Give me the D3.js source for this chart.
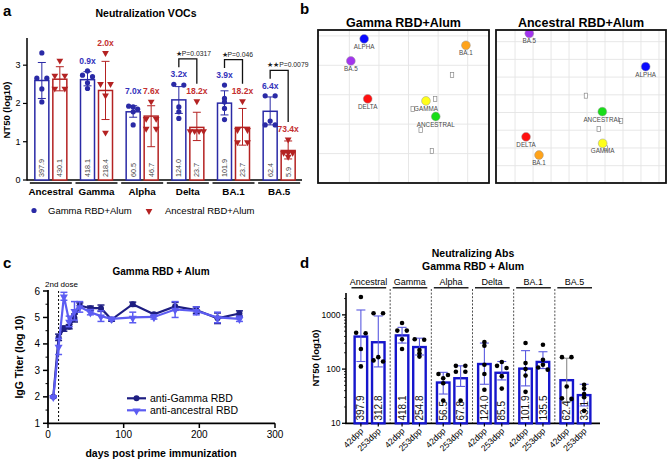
<!DOCTYPE html>
<html><head><meta charset="utf-8">
<script src="https://cdn.jsdelivr.net/npm/d3@7"></script>
<style>
body{margin:0;background:#fff}
svg{display:block;font-family:"Liberation Sans",Arial,Helvetica,sans-serif}
</style>
</head><body>
<svg id="fig" width="667" height="461"></svg>
<script>
// ================= DATA =================
// Panel a
const variantsA = ["Ancestral","Gamma","Alpha","Delta","BA.1","BA.5"];
const seriesA = ["Gamma RBD+Alum","Ancestral RBD+Alum"];
const gammaGMT = [397.9,418.1,60.5,124.0,101.9,62.4];
const ancestralGMT = [430.1,218.4,46.7,23.7,23.7,5.9];
const gammaFold = ["","0.9x","7.0x","3.2x","3.9x","6.4x"];
const ancestralFold = ["","2.0x","7.6x","18.2x","18.2x","73.4x"];
const gammaPts = [[3.32,2.66,2.66,2.38,2.04],[2.85,2.70,2.74,2.54,2.39],[1.91,1.93,1.85,1.78,1.44],[2.50,2.48,1.91,1.78,1.61],[2.48,2.04,2.13,1.87,1.58],[2.20,2.20,1.54,1.44,1.44]];
const ancestralPts = [[3.13,2.74,2.74,2.40,2.40],[3.33,2.52,2.52,2.22,1.25],[2.06,1.61,1.61,1.35,1.35],[2.07,1.29,1.29,1.29,1.29],[2.07,1.32,1.32,1.00,1.00],[1.07,0.72,0.72,0.72,0.62]];
const gammaErr = [[2.13,3.07],[2.46,2.83],[1.64,1.94],[1.74,2.44],[1.70,2.33],[1.44,2.17]];
const ancestralErr = [[2.33,2.96],[1.58,3.10],[0.87,1.94],[1.03,1.77],[0.91,1.87],[0.55,1.02]];
const pTests = [{variant:"Delta",label:"\u2605P=0.0317"},{variant:"BA.1",label:"\u2605P=0.046"},{variant:"BA.5",label:"\u2605\u2605P=0.0079"}];
const yTicksA = [0,1,2,3];

// Panel b (antigenic maps, map units)
const antigenNames = ["ALPHA","BA.1","BA.5","DELTA","GAMMA","ANCESTRAL"];
const gammaMapX = [0.50,3.94,0.05,0.62,2.59,2.92];
const gammaMapY = [0.10,0.32,0.85,2.14,2.21,2.74];
const gammaSeraX = [3.47,2.90,2.14,2.41,2.79];
const gammaSeraY = [1.33,2.15,2.49,3.20,3.91];
const ancMapX = [7.26,1.33,0.79,0.61,4.87,4.85];
const ancMapY = [1.41,6.40,-0.47,5.37,5.74,3.95];
const ancSeraX = [3.94,5.89,4.65,5.04];
const ancSeraY = [3.05,4.48,4.93,6.02];

// Panel c
const daysC = [7,14,21,28,35,42,56,70,84,112,140,168,196,224,253];
const antiGamma = [2.0,4.25,4.58,4.65,4.98,5.45,5.35,5.35,4.92,5.50,5.12,5.42,5.28,4.97,5.15];
const antiGammaErr = [0.03,0.12,0.10,0.08,0.15,0.10,0.08,0.12,0.06,0.08,0.06,0.15,0.12,0.20,0.10];
const antiAnc = [2.0,3.90,5.80,4.85,5.25,5.40,5.20,5.05,4.95,5.00,5.02,5.30,5.25,5.00,4.95];
const antiAncErr = [0.03,0.30,0.15,0.20,0.35,0.20,0.10,0.20,0.06,0.20,0.08,0.30,0.15,0.20,0.10];
const seriesC = ["anti-Gamma RBD","anti-ancestral RBD"];
const xTicksC = [0,100,200,300];
const yTicksC = [1,2,3,4,5,6];

// Panel d
const groupsD = ["Ancestral","Gamma","Alpha","Delta","BA.1","BA.5"];
const timesD = ["42dpp","253dpp"];
const gmt42 = [397.9,418.1,56.5,124.0,101.9,62.4];
const gmt253 = [312.8,254.8,67.8,85.5,135.5,33.1];
const pts42 = [[3.33,2.66,2.67,2.37,2.05],[2.85,2.71,2.71,2.55,2.37],[1.91,1.89,1.83,1.74,1.42],[2.50,2.43,2.08,1.91,1.62],[2.48,2.11,2.00,1.88,1.58],[2.22,2.22,1.68,1.45,1.46]];
const pts253 = [[3.03,3.03,2.22,2.14,2.16],[2.55,2.54,2.35,2.29,2.23],[2.06,2.06,1.95,1.95,1.42],[2.13,2.06,2.02,1.87,1.64],[2.45,2.08,2.03,1.99,2.17],[1.71,1.64,1.54,1.48,1.23]];
const err42 = [[2.14,3.09],[2.48,2.77],[1.54,1.94],[1.72,2.48],[1.69,2.34],[1.40,2.20]];
const err253 = [[2.04,2.98],[2.26,2.57],[1.68,2.06],[1.80,2.14],[2.01,2.32],[1.32,1.72]];
const yTicksD = [10,100,1000];

// ================= STYLES =================
const BLUE_A="#2a2aa6", RED_A="#b42222", FOLD_BLUE="#3333bb", FOLD_RED="#c43030";
const antigenColors = {"ALPHA":"#0a0aff","BA.1":"#ffa31a","BA.5":"#a335ee","DELTA":"#ff1010","GAMMA":"#ffff1a","ANCESTRAL":"#18dd18"};
const DARK_C="#1e1e82", LIGHT_C="#5c5cf2";
const BAR_D="#1616cc", ERR_D="#5a5ae0";

const svg = d3.select("#fig");

function spread(vals, ys, thr, sp2, spN){
  const idx = vals.map((v,i)=>i).sort((a,b)=>ys(vals[a])-ys(vals[b]));
  const off = new Array(vals.length).fill(0);
  let cl=[idx[0]];
  const flush=()=>{const n=cl.length;const sp=n===2?sp2:spN;cl.forEach((k,j)=>off[k]=(j-(n-1)/2)*sp);};
  for(let i=1;i<idx.length;i++){
    if(Math.abs(ys(vals[idx[i]])-ys(vals[cl[cl.length-1]]))<thr) cl.push(idx[i]);
    else {flush(); cl=[idx[i]];}
  }
  flush();
  return off;
}
const panelLabel=(t,x,y)=>svg.append("text").attr("x",x).attr("y",y).attr("font-size",15).attr("font-weight","bold").text(t);

// ================= PANEL A =================
(function(){
  const g = svg.append("g");
  panelLabel("a",3,16);
  g.append("text").attr("x",146).attr("y",17).attr("text-anchor","middle").attr("font-size",10.5).attr("font-weight","bold").text("Neutralization VOCs");
  const y = d3.scaleLinear().domain([0,3.71]).range([180,38]);
  const x0 = d3.scaleBand().domain(variantsA).range([28,302]);
  const x1 = d3.scaleBand().domain(seriesA).range([-18,18]);
  const bw = 14;
  g.append("line").attr("x1",27).attr("x2",27).attr("y1",38).attr("y2",180.5).attr("stroke","#000").attr("stroke-width",1.5);
  yTicksA.forEach(t=>{
    g.append("line").attr("x1",23).attr("x2",27).attr("y1",y(t)).attr("y2",y(t)).attr("stroke","#000").attr("stroke-width",1.2);
    g.append("text").attr("x",20.5).attr("y",y(t)+3).attr("text-anchor","end").attr("font-size",9).text(t);
  });
  g.append("text").attr("transform","translate(10,110) rotate(-90)").attr("text-anchor","middle").attr("font-size",9.5).attr("font-weight","bold").text("NT50 (log10)");
  g.append("line").attr("x1",27).attr("x2",302).attr("y1",180).attr("y2",180).attr("stroke","#000").attr("stroke-width",1.5);
  const sets = [
    {s:seriesA[0],gmt:gammaGMT,pts:gammaPts,err:gammaErr,col:BLUE_A,fold:gammaFold,fc:FOLD_BLUE,sym:"circle"},
    {s:seriesA[1],gmt:ancestralGMT,pts:ancestralPts,err:ancestralErr,col:RED_A,fold:ancestralFold,fc:FOLD_RED,sym:"tri"}
  ];
  const foldY = {};
  variantsA.forEach((v,i)=>{
    const cx = x0(v)+x0.bandwidth()/2;
    g.append("line").attr("x1",cx-21).attr("x2",cx+21).attr("y1",183).attr("y2",183).attr("stroke","#000").attr("stroke-width",1.5);
    g.append("text").attr("x",cx).attr("y",195).attr("text-anchor","middle").attr("font-size",9.8).attr("font-weight","bold").text(v);
    const tops = sets.map(S=>y(Math.max(d3.max(S.pts[i]),S.err[i][1]))-7);
    if(Math.abs(tops[0]-tops[1])<8){const m=Math.min(...tops);tops[0]=m;tops[1]=m;}
    foldY[v]=tops;
    sets.forEach((S,si)=>{
      const bx = cx + x1(S.s)+x1.bandwidth()/2;
      const val = Math.log10(S.gmt[i]);
      g.append("rect").attr("x",bx-bw/2).attr("y",y(val)).attr("width",bw).attr("height",y(0)-y(val)).attr("fill","#fff").attr("stroke",S.col).attr("stroke-width",1.5);
      g.append("text").attr("transform",`translate(${bx+2.5},177) rotate(-90)`).attr("font-size",7.2).attr("fill","#444").text(S.gmt[i].toFixed(1));
      const [lo,hi]=S.err[i];
      g.append("line").attr("x1",bx).attr("x2",bx).attr("y1",y(lo)).attr("y2",y(hi)).attr("stroke",S.col).attr("stroke-width",1);
      [lo,hi].forEach(e=>g.append("line").attr("x1",bx-4).attr("x2",bx+4).attr("y1",y(e)).attr("y2",y(e)).attr("stroke",S.col).attr("stroke-width",1));
      const off = spread(S.pts[i],y,2.5,10,4.5);
      S.pts[i].forEach((p,k)=>{
        if(S.sym==="circle") g.append("circle").attr("cx",bx+off[k]).attr("cy",y(p)).attr("r",2.6).attr("fill",S.col);
        else g.append("path").attr("d",d3.symbol().type(d3.symbolTriangle).size(20)()).attr("transform",`translate(${bx+off[k]},${y(p)+0.5}) rotate(180)`).attr("fill",S.col);
      });
      if(S.fold[i]) g.append("text").attr("x",bx).attr("y",tops[si]).attr("text-anchor","middle").attr("font-size",8.5).attr("font-weight","bold").attr("fill",S.fc).text(S.fold[i]);
    });
  });
  pTests.forEach(t=>{
    const cx = x0(t.variant)+x0.bandwidth()/2;
    const bxL = cx + x1(seriesA[0])+x1.bandwidth()/2, bxR = cx + x1(seriesA[1])+x1.bandwidth()/2;
    const [tb,tr]=foldY[t.variant];
    const legL = tb-10, legR = tr-10, top = legL-8.5;
    g.append("path").attr("d",`M${bxL},${legL}V${top}H${bxR}V${legR}`).attr("fill","none").attr("stroke","#111").attr("stroke-width",1.3);
    g.append("text").attr("x",bxL-3).attr("y",top-3).attr("font-size",6.8).attr("fill","#222").text(t.label);
  });
  g.append("circle").attr("cx",34).attr("cy",210.5).attr("r",2.6).attr("fill",BLUE_A);
  g.append("text").attr("x",48).attr("y",214).attr("font-size",9.5).text(seriesA[0]);
  g.append("path").attr("d",d3.symbol().type(d3.symbolTriangle).size(20)()).attr("transform","translate(149,211) rotate(180)").attr("fill",RED_A);
  g.append("text").attr("x",165).attr("y",214).attr("font-size",9.5).text(seriesA[1]);
})();

// ================= PANEL B =================
(function(){
  panelLabel("b",300,14);
  const maps = [
    {title:"Gamma RBD+Alum",x0:318,x1:489,xd:[-1.06,4.72],yd:[-0.2,5.0],gx:[0,1,2,3,4],gy:[0,1,2,3,4],ax:gammaMapX,ay:gammaMapY,sx:gammaSeraX,sy:gammaSeraY,id:"m1"},
    {title:"Ancestral RBD+Alum",x0:496,x1:666,xd:[-1.06,8.39],yd:[-0.66,7.98],gx:[0,1,2,3,4,5,6,7,8],gy:[0,1,2,3,4,5,6,7],ax:ancMapX,ay:ancMapY,sx:ancSeraX,sy:ancSeraY,id:"m2"}
  ];
  maps.forEach(M=>{
    const x=d3.scaleLinear().domain(M.xd).range([M.x0,M.x1]);
    const y=d3.scaleLinear().domain(M.yd).range([30,183]);
    svg.append("text").attr("x",(M.x0+M.x1)/2).attr("y",27).attr("text-anchor","middle").attr("font-size",12.5).attr("font-weight","bold").text(M.title);
    svg.append("clipPath").attr("id",M.id).append("rect").attr("x",M.x0).attr("y",30).attr("width",M.x1-M.x0).attr("height",153);
    const g=svg.append("g").attr("clip-path",`url(#${M.id})`);
    g.append("rect").attr("x",M.x0).attr("y",30).attr("width",M.x1-M.x0).attr("height",153).attr("fill","#fff");
    M.gx.forEach(v=>g.append("line").attr("x1",x(v)).attr("x2",x(v)).attr("y1",30).attr("y2",183).attr("stroke","#e4e4e4").attr("stroke-width",0.9));
    M.gy.forEach(v=>g.append("line").attr("x1",M.x0).attr("x2",M.x1).attr("y1",y(v)).attr("y2",y(v)).attr("stroke","#e4e4e4").attr("stroke-width",0.9));
    M.sx.forEach((v,i)=>g.append("rect").attr("x",x(v)-1.7).attr("y",y(M.sy[i])-2.5).attr("width",3.4).attr("height",5).attr("fill","#fff").attr("stroke","#8a8a8a").attr("stroke-width",0.7));
    antigenNames.forEach((n,i)=>{
      g.append("circle").attr("cx",x(M.ax[i])).attr("cy",y(M.ay[i])).attr("r",4.4).attr("fill",antigenColors[n]).attr("stroke","#999").attr("stroke-width",0.5);
      g.append("text").attr("x",x(M.ax[i])).attr("y",y(M.ay[i])+10).attr("text-anchor","middle").attr("font-size",6.3).attr("fill","#4a4a4a").text(n);
    });
    svg.append("rect").attr("x",M.x0).attr("y",30).attr("width",M.x1-M.x0).attr("height",153).attr("fill","none").attr("stroke","#111").attr("stroke-width",1.8);
  });
})();

// ================= PANEL C =================
(function(){
  const g=svg.append("g");
  panelLabel("c",3,268);
  g.append("text").attr("x",161).attr("y",275).attr("text-anchor","middle").attr("font-size",10).attr("font-weight","bold").text("Gamma RBD + Alum");
  const x=d3.scaleLinear().domain([0,300]).range([48,275]);
  const y=d3.scaleLinear().domain([1,6]).range([423.3,291]);
  g.append("line").attr("x1",48).attr("x2",48).attr("y1",290).attr("y2",424).attr("stroke","#000").attr("stroke-width",1.8);
  g.append("line").attr("x1",47).attr("x2",275).attr("y1",423.3).attr("y2",423.3).attr("stroke","#000").attr("stroke-width",1.8);
  yTicksC.forEach(t=>{
    g.append("line").attr("x1",43).attr("x2",48).attr("y1",y(t)).attr("y2",y(t)).attr("stroke","#000").attr("stroke-width",1.5);
    g.append("text").attr("x",40).attr("y",y(t)+3.5).attr("text-anchor","end").attr("font-size",10).text(t);
  });
  d3.range(1,6,0.5).filter(t=>t%1!==0).forEach(t=>g.append("line").attr("x1",45.5).attr("x2",48).attr("y1",y(t)).attr("y2",y(t)).attr("stroke","#000").attr("stroke-width",1));
  xTicksC.forEach(t=>{
    g.append("line").attr("x1",x(t)).attr("x2",x(t)).attr("y1",423.3).attr("y2",428).attr("stroke","#000").attr("stroke-width",1.5);
    g.append("text").attr("x",x(t)).attr("y",438).attr("text-anchor","middle").attr("font-size",10).text(t);
  });
  g.append("text").attr("transform","translate(23,357) rotate(-90)").attr("text-anchor","middle").attr("font-size",10.5).attr("font-weight","bold").text("IgG Titer (log 10)");
  g.append("text").attr("x",161).attr("y",457).attr("text-anchor","middle").attr("font-size",10.5).attr("font-weight","bold").text("days post prime immunization");
  g.append("line").attr("x1",x(14)).attr("x2",x(14)).attr("y1",291).attr("y2",423).attr("stroke","#000").attr("stroke-width",1).attr("stroke-dasharray","2,2");
  g.append("text").attr("x",45).attr("y",287).attr("font-size",8).text("2nd dose");
  const sets=[{v:antiGamma,e:antiGammaErr,c:DARK_C,sym:"circle"},{v:antiAnc,e:antiAncErr,c:LIGHT_C,sym:"tri"}];
  sets.forEach(S=>{
    const line=d3.line().x((d,i)=>x(daysC[i])).y(d=>y(d));
    g.append("path").attr("d",line(S.v)).attr("fill","none").attr("stroke",S.c).attr("stroke-width",2.2);
    S.v.forEach((v,i)=>{
      const cx=x(daysC[i]);
      g.append("line").attr("x1",cx).attr("x2",cx).attr("y1",y(v-S.e[i])).attr("y2",y(v+S.e[i])).attr("stroke",S.c).attr("stroke-width",1.5);
      [v-S.e[i],v+S.e[i]].forEach(e=>g.append("line").attr("x1",cx-3.5).attr("x2",cx+3.5).attr("y1",y(e)).attr("y2",y(e)).attr("stroke",S.c).attr("stroke-width",1.5));
      if(S.sym==="circle") g.append("circle").attr("cx",cx).attr("cy",y(v)).attr("r",3).attr("fill",S.c);
      else g.append("path").attr("d",d3.symbol().type(d3.symbolTriangle).size(28)()).attr("transform",`translate(${cx},${y(v)+0.6}) rotate(180)`).attr("fill",S.c);
    });
  });
  [[398.3,DARK_C,"circle"],[410.3,LIGHT_C,"tri"]].forEach((L,i)=>{
    g.append("line").attr("x1",127).attr("x2",146).attr("y1",L[0]).attr("y2",L[0]).attr("stroke",L[1]).attr("stroke-width",2.2);
    if(L[2]==="circle") g.append("circle").attr("cx",136.5).attr("cy",L[0]).attr("r",3).attr("fill",L[1]);
    else g.append("path").attr("d",d3.symbol().type(d3.symbolTriangle).size(28)()).attr("transform",`translate(136.5,${L[0]+0.6}) rotate(180)`).attr("fill",L[1]);
    g.append("text").attr("x",150).attr("y",L[0]+3.8).attr("font-size",10.5).text(seriesC[i]);
  });
})();

// ================= PANEL D =================
(function(){
  const g=svg.append("g");
  panelLabel("d",300,268);
  g.append("text").attr("x",473).attr("y",257).attr("text-anchor","middle").attr("font-size",10.5).attr("font-weight","bold").text("Neutralizing Abs");
  g.append("text").attr("x",473).attr("y",270).attr("text-anchor","middle").attr("font-size",10.5).attr("font-weight","bold").text("Gamma RBD + Alum");
  const y=d3.scaleLog().domain([10,2500]).range([423.3,293.3]);
  const x0=d3.scaleBand().domain(groupsD).range([349,596]);
  const x1=d3.scaleBand().domain(timesD).range([-17.4,17.4]);
  const bw=12.5;
  g.append("line").attr("x1",346).attr("x2",346).attr("y1",293).attr("y2",424).attr("stroke","#000").attr("stroke-width",1.6);
  g.append("line").attr("x1",345).attr("x2",600).attr("y1",423.3).attr("y2",423.3).attr("stroke","#000").attr("stroke-width",1.8);
  yTicksD.forEach(t=>{
    g.append("line").attr("x1",342).attr("x2",346).attr("y1",y(t)).attr("y2",y(t)).attr("stroke","#000").attr("stroke-width",1.3);
    g.append("text").attr("x",340.5).attr("y",y(t)+3).attr("text-anchor","end").attr("font-size",8.5).text(t);
  });
  [20,30,40,50,60,70,80,90,200,300,400,500,600,700,800,900,2000].forEach(t=>g.append("line").attr("x1",344).attr("x2",346).attr("y1",y(t)).attr("y2",y(t)).attr("stroke","#000").attr("stroke-width",0.8));
  g.append("text").attr("transform","translate(319,358) rotate(-90)").attr("text-anchor","middle").attr("font-size",9.5).attr("font-weight","bold").text("NT50 (log10)");
  groupsD.forEach((grp,i)=>{
    const gx=x0(grp), cx=gx+x0.bandwidth()/2;
    if(i>0) g.append("line").attr("x1",gx).attr("x2",gx).attr("y1",289).attr("y2",423).attr("stroke","#222").attr("stroke-width",0.8).attr("stroke-dasharray","2,1.6");
    g.append("line").attr("x1",gx+2.5).attr("x2",gx+x0.bandwidth()-4).attr("y1",287.7).attr("y2",287.7).attr("stroke","#222").attr("stroke-width",1.5);
    g.append("text").attr("x",cx-1).attr("y",285).attr("text-anchor","middle").attr("font-size",9).text(grp);
    const sets=[{t:timesD[0],gmt:gmt42[i],pts:pts42[i],err:err42[i]},{t:timesD[1],gmt:gmt253[i],pts:pts253[i],err:err253[i]}];
    sets.forEach((S,si)=>{
      const bx=cx+x1(S.t)+x1.bandwidth()/2;
      g.append("rect").attr("x",bx-bw/2).attr("y",y(S.gmt)).attr("width",bw).attr("height",y(10)-y(S.gmt)).attr("fill","#fff").attr("stroke",BAR_D).attr("stroke-width",2.4);
      const ec = (grp==="BA.5"&&si===0)?"#8a8a8a":ERR_D;
      const lo=Math.pow(10,S.err[0]), hi=Math.pow(10,S.err[1]);
      g.append("line").attr("x1",bx).attr("x2",bx).attr("y1",y(lo)).attr("y2",y(hi)).attr("stroke",ec).attr("stroke-width",1.1);
      [lo,hi].forEach(e=>g.append("line").attr("x1",bx-4.5).attr("x2",bx+4.5).attr("y1",y(e)).attr("y2",y(e)).attr("stroke",ec).attr("stroke-width",1.1));
      g.append("text").attr("transform",`translate(${bx+3.6},420.5) rotate(-90)`).attr("font-size",10).attr("fill","#111").text(S.gmt.toFixed(1));
      const ly = v=>y(Math.pow(10,v));
      const off=spread(S.pts,ly,2.5,9.5,4.5);
      S.pts.forEach((p,k)=>g.append("circle").attr("cx",bx+off[k]).attr("cy",ly(p)).attr("r",2.3).attr("fill","#000"));
      g.append("line").attr("x1",bx).attr("x2",bx).attr("y1",423.3).attr("y2",426.5).attr("stroke","#000").attr("stroke-width",1.2);
      g.append("text").attr("transform",`translate(${bx+3},431.5) rotate(-45)`).attr("text-anchor","end").attr("font-size",8.6).text(S.t);
    });
  });
})();
</script>
</body></html>
